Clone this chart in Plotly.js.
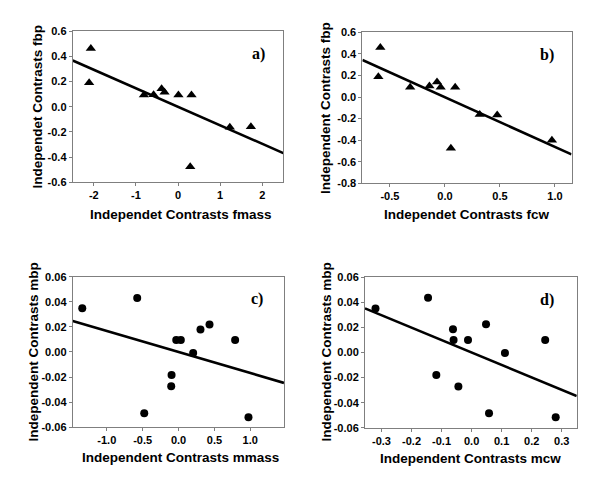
<!DOCTYPE html>
<html>
<head>
<meta charset="utf-8">
<script src="https://cdn.plot.ly/plotly-3.0.1.min.js"></script>
<style>html,body{margin:0;padding:0;background:#fff;}#chart{width:600px;height:490px;}</style>
</head>
<body>
<div id="chart"></div>
<script>
// Panel a: fmass vs fbp
const aX = [-2.07, -2.11, -0.81, -0.58, -0.39, -0.32, 0.01, 0.32, 0.29, 1.23, 1.73];
const aY = [0.462, 0.19, 0.092, 0.095, 0.143, 0.114, 0.092, 0.092, -0.476, -0.164, -0.159];
// Panel b: fcw vs fbp
const bX = [-0.587, -0.605, -0.316, -0.141, -0.072, -0.039, 0.093, 0.054, 0.316, 0.475, 0.972];
const bY = [0.46, 0.189, 0.090, 0.102, 0.139, 0.090, 0.090, -0.476, -0.161, -0.167, -0.40];
// Panel c: mmass vs mbp
const cX = [-1.342, -0.576, -0.478, -0.097, -0.102, -0.032, 0.032, 0.204, 0.306, 0.432, 0.789, 0.975];
const cY = [0.0348, 0.043, -0.0489, -0.0183, -0.0274, 0.0096, 0.0096, -0.0008, 0.018, 0.022, 0.0096, -0.052];
// Panel d: mcw vs mbp
const dX = [-0.320, -0.145, -0.1175, -0.062, -0.060, -0.044, -0.012, 0.048, 0.058, 0.111, 0.245, 0.280];
const dY = [0.0352, 0.0438, -0.018, 0.0185, 0.010, -0.027, 0.010, 0.0225, -0.0485, -0.0004, 0.010, -0.0517];
// regression lines [slope, intercept]
const aFit = [-0.147, -0.001];
const bFit = [-0.4605, -0.0024];
const cFit = [-0.01675, 0.0];
const dFit = [-0.0992, 0.0];
// axis ranges
const aXRange = [-2.5, 2.5], aYRange = [-0.6, 0.6];
const bXRange = [-0.75, 1.15], bYRange = [-0.8, 0.6];
const cXRange = [-1.475, 1.47], cYRange = [-0.06, 0.06];
const dXRange = [-0.355, 0.35], dYRange = [-0.06, 0.06];
// tick values and labels
const aXTicks = [-2, -1, 0, 1, 2];
const aXLabels = ["-2", "-1", "0", "1", "2"];
const aYTicks = [-0.6, -0.4, -0.2, 0, 0.2, 0.4, 0.6];
const aYLabels = ["-0.6", "-0.4", "-0.2", "0.0", "0.2", "0.4", "0.6"];
const bXTicks = [-0.5, 0, 0.5, 1.0];
const bXLabels = ["-0.5", "0.0", "0.5", "1.0"];
const bYTicks = [-0.8, -0.6, -0.4, -0.2, 0, 0.2, 0.4, 0.6];
const bYLabels = ["-0.8", "-0.6", "-0.4", "-0.2", "0.0", "0.2", "0.4", "0.6"];
const cXTicks = [-1.0, -0.5, 0, 0.5, 1.0];
const cXLabels = ["-1.0", "-0.5", "0.0", "0.5", "1.0"];
const mYTicks = [-0.06, -0.04, -0.02, 0, 0.02, 0.04, 0.06];
const mYLabels = ["-0.06", "-0.04", "-0.02", "0.00", "0.02", "0.04", "0.06"];
const dXTicks = [-0.3, -0.2, -0.1, 0, 0.1, 0.2, 0.3];
const dXLabels = ["-0.3", "-0.2", "-0.1", "0.0", "0.1", "0.2", "0.3"];
// titles
const xTitles = ["Independet Contrasts fmass", "Independet Contrasts fcw", "Independent Contrasts mmass", "Independent Contrasts mcw"];
const yTitles = ["Independet Contrasts fbp", "Independent Contrasts fbp", "Independent Contrasts mbp", "Independent Contrasts mbp"];
const panelLabels = ["a)", "b)", "c)", "d)"];

const W = 600, H = 490;
const F = "Liberation Sans, Arial, sans-serif";
const titleFont = {family: F, size: 13.5, color: '#000', weight: 700};
function fitLine(fit, range, xa, ya) {
  const xs = [range[0], range[1]];
  return {x: xs, y: xs.map(v => fit[0] * v + fit[1]), xaxis: xa, yaxis: ya,
    mode: 'lines', line: {color: '#000', width: 2.6}, hoverinfo: 'skip'};
}
function pts(x, y, sym, xa, ya) {
  return {x: x, y: y, xaxis: xa, yaxis: ya, mode: 'markers',
    marker: {symbol: sym, color: '#000', size: sym === 'triangle-up' ? 9 : 8}, cliponaxis: false};
}
const data = [
  fitLine(aFit, aXRange, 'x', 'y'), pts(aX, aY, 'triangle-up', 'x', 'y'),
  fitLine(bFit, bXRange, 'x2', 'y2'), pts(bX, bY, 'triangle-up', 'x2', 'y2'),
  fitLine(cFit, cXRange, 'x3', 'y3'), pts(cX, cY, 'circle', 'x3', 'y3'),
  fitLine(dFit, dXRange, 'x4', 'y4'), pts(dX, dY, 'circle', 'x4', 'y4')
];
function ax(domain, anchor, range, tv, tt) {
  return {domain: domain, anchor: anchor, range: range, tickvals: tv, ticktext: tt,
    showgrid: false, zeroline: false, showline: true, mirror: true, linecolor: '#7f7f7f', linewidth: 1,
    ticks: 'outside', ticklen: 3, tickcolor: '#7f7f7f', tickwidth: 1,
    tickfont: {family: F, size: 11, color: '#000', weight: 700}, automargin: false};
}
// axis title positions (pixel centres)
const xTitlePos = [[180.5, 215], [467, 215], [180, 457], [470.5, 458]];
const yTitlePos = [[37.5, 107], [326, 108], [32.5, 352], [326, 352.5]];
const labelPos = [[258.5, 54], [547, 55], [257, 299], [547, 300]];
const annotations = [];
xTitles.forEach((t, i) => annotations.push({text: t, x: xTitlePos[i][0] / W, y: 1 - xTitlePos[i][1] / H, font: titleFont}));
yTitles.forEach((t, i) => annotations.push({text: t, x: yTitlePos[i][0] / W, y: 1 - yTitlePos[i][1] / H, textangle: -90, font: titleFont}));
panelLabels.forEach((t, i) => annotations.push({text: t, x: labelPos[i][0] / W, y: 1 - labelPos[i][1] / H,
  font: {family: 'Liberation Serif, Times New Roman, serif', size: 16, color: '#000', weight: 700}}));
annotations.forEach(a => Object.assign(a, {xref: 'paper', yref: 'paper', showarrow: false, xanchor: 'center', yanchor: 'middle'}));

const layout = {
  width: W, height: H, margin: {l: 0, r: 0, t: 0, b: 0},
  paper_bgcolor: '#fff', plot_bgcolor: '#fff', showlegend: false,
  xaxis: ax([0.1212, 0.4722], 'y', aXRange, aXTicks, aXLabels),
  yaxis: ax([0.628, 0.9367], 'x', aYRange, aYTicks, aYLabels),
  xaxis2: ax([0.604, 0.9525], 'y2', bXRange, bXTicks, bXLabels),
  yaxis2: ax([0.626, 0.934], 'x2', bYRange, bYTicks, bYLabels),
  xaxis3: ax([0.1212, 0.4733], 'y3', cXRange, cXTicks, cXLabels),
  yaxis3: ax([0.128, 0.4353], 'x3', cYRange, mYTicks, mYLabels),
  xaxis4: ax([0.6083, 0.9612], 'y4', dXRange, dXTicks, dXLabels),
  yaxis4: ax([0.127, 0.434], 'x4', dYRange, mYTicks, mYLabels),
  annotations: annotations
};
Plotly.newPlot('chart', data, layout, {staticPlot: true, displayModeBar: false});
</script>
</body>
</html>
